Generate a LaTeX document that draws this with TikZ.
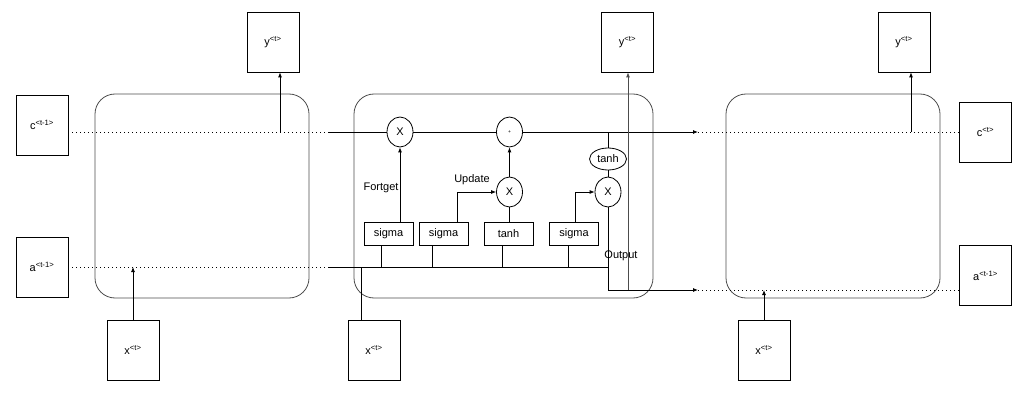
\documentclass[tikz,border=0pt]{standalone}
\usepackage{fontspec}
\setmainfont{Liberation Sans}
\usetikzlibrary{positioning,calc,shapes,arrows.meta}
\tikzset{
  >={Latex[length=5pt,width=4pt]},
  vecbox/.style={draw,thick,minimum width=52pt,minimum height=60pt,inner sep=0pt},
  gatebox/.style={draw,thick,minimum width=49pt,minimum height=23pt,inner sep=0pt},
  opnode/.style={draw,thick,ellipse,minimum width=26pt,minimum height=30pt,inner sep=0pt},
  cellbox/.style={draw=black!70,thick,rounded corners=20pt,minimum height=204pt,inner sep=0pt},
  dotline/.style={thick,dash pattern=on 1pt off 3pt},
  every node/.style={font=\fontsize{11}{13}\selectfont}
}
\newcommand{\vlabel}[2]{#1\textsuperscript{#2}}
\begin{document}
\begin{tikzpicture}[x=1pt,y=-1pt,line width=0.8pt]
\useasboundingbox (0,0) rectangle (1026,401);
% cells
\node[cellbox,minimum width=214pt] (cellL) at (202,196) {};
\node[cellbox,minimum width=299pt] (cellM) at (503.5,196) {};
\node[cellbox,minimum width=214pt] (cellR) at (833,196) {};
% inputs and outputs
\node[vecbox] (cprev) at (42,125) {\vlabel{c}{<t-1>}};
\node[vecbox] (aprev) at (42,267) {\vlabel{a}{<t-1>}};
\node[vecbox] (yL) at (273,42) {\vlabel{y}{<t>}};
\node[vecbox] (xL) at (133,350) {\vlabel{x}{<t>}};
\node[vecbox] (yM) at (627.5,42) {\vlabel{y}{<t>}};
\node[vecbox] (xM) at (374,350) {\vlabel{x}{<t>}};
\node[vecbox] (yR) at (904,42) {\vlabel{y}{<t>}};
\node[vecbox] (xR) at (764,350) {\vlabel{x}{<t>}};
\node[vecbox] (cnext) at (985.5,132) {\vlabel{c}{<t>}};
\node[vecbox] (anext) at (985.5,275.5) {\vlabel{a}{<t-1>}};
% gates
\node[opnode] (fX) at (400,132) {X};
\node[opnode] (plus) at (509.5,132) {\tiny +};
\node[opnode] (uX) at (509.5,192) {X};
\node[opnode] (oX) at (608,192) {X};
\node[draw,thick,ellipse,minimum width=37pt,minimum height=22pt,inner sep=0pt] (tanhE) at (608,159) {tanh};
\node[gatebox] (s1) at (388.5,233.5) {sigma};
\node[gatebox] (s2) at (443.5,233.5) {sigma};
\node[gatebox] (tb) at (508.5,233.5) {tanh};
\node[gatebox] (s3) at (574,234) {sigma};
% coordinates on the lines
\coordinate (cL) at (329,132);
\coordinate (aL) at (329,267);
\coordinate (bus) at (608,267);
\coordinate (cR) at (698,132);
\coordinate (aR) at (698,290);
\coordinate (oturn) at (608,290);
% left cell
\draw[dotline] (cprev.east |- cL) -- (cL);
\draw[dotline] (aprev.east |- aL) -- (aL);
\draw[->] (280,132) -- (yL.south -| 280,0);
\draw[->] (xL.north) -- (xL.north |- aL);
% middle cell
\draw (cL) -- (fX.west);
\draw (fX.east) -- (plus.west);
\draw[->] (plus.east) -- (cR);
\draw (aL) -- (bus);
\draw (xM.north -| 361,0) -- (361,267);
\draw (s1.south -| 381,0) -- (381,267);
\draw (s2.south -| 432,0) -- (432,267);
\draw (tb.south -| 502,0) -- (502,267);
\draw (s3.south -| 568,0) -- (568,267);
\draw[->] (s1.north -| fX) -- (fX.south);
\draw[->] (s2.north -| 457,0) |- (uX.west);
\draw (tb.north -| uX) -- (uX.south);
\draw[->] (uX.north) -- (plus.south);
\draw[->] (s3.north -| 575,0) |- (oX.west);
\draw (tanhE.north) -- (tanhE.north |- plus);
\draw (tanhE.south) -- (oX.north);
\draw[->] (oX.south) -- (oturn) -- (aR);
\draw[->,black!70] (628,290) -- (yM.south -| 628,0);
\node at (381,188) {Fortget};
\node at (472,180) {Update};
\node at (621,256) {Output};
% right cell
\draw[dotline] (cR) -- (cnext.west |- cR);
\draw[dotline] (aR) -- (anext.west |- aR);
\draw[->] (911,132) -- (yR.south -| 911,0);
\draw[->] (xR.north) -- (xR.north |- aR);
\end{tikzpicture}
\end{document}
